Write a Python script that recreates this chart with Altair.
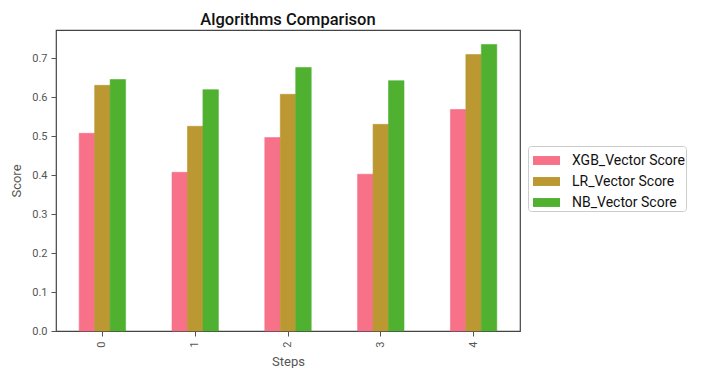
import altair as alt
import pandas as pd

steps = ["0", "1", "2", "3", "4"]
series = ["XGB_Vector Score", "LR_Vector Score", "NB_Vector Score"]
xgb = [0.507, 0.407, 0.496, 0.402, 0.568]
lr = [0.630, 0.525, 0.607, 0.530, 0.709]
nb = [0.645, 0.619, 0.676, 0.642, 0.735]
colors = ["#f77189", "#bb9832", "#50b131"]

rows = []
for s, vals in zip(series, [xgb, lr, nb]):
    for st, v in zip(steps, vals):
        rows.append({"Steps": st, "Series": s, "Score": v})
df = pd.DataFrame(rows)

rect_path = "M-1,-0.33H1V0.33H-1Z"
cscale = alt.Scale(domain=series, range=colors)

chart = alt.Chart(df).mark_bar(strokeWidth=0.6).encode(
    x=alt.X("Steps:N", sort=steps,
            scale=alt.Scale(paddingInner=0.5, paddingOuter=0.25),
            axis=alt.Axis(title="Steps", labelAngle=-90, labelFontSize=11,
                          labelColor="#555555", titleColor="#555555",
                          titleFontSize=13, titleFontWeight="normal",
                          tickColor="#555555", tickSize=5, domain=False,
                          labelPadding=5, titlePadding=8)),
    xOffset=alt.XOffset("Series:N", sort=series),
    y=alt.Y("Score:Q", scale=alt.Scale(domain=[0, 0.772], nice=False),
            axis=alt.Axis(title="Score", values=[0, 0.1, 0.2, 0.3, 0.4, 0.5, 0.6, 0.7],
                          format=".1f", grid=False, labelFontSize=11,
                          labelColor="#555555", titleColor="#555555",
                          titleFontSize=13, titleFontWeight="normal",
                          tickColor="#555555", tickSize=5, domain=False,
                          labelPadding=4, titlePadding=8)),
    color=alt.Color("Series:N", sort=series, scale=cscale,
                    legend=alt.Legend(title=None, orient="none", legendX=472, legendY=116,
                                      symbolType=rect_path, symbolSize=729,
                                      symbolStrokeWidth=0, symbolOpacity=1,
                                      symbolOffset=4,
                                      labelFontSize=14, labelColor="#111111",
                                      labelOffset=12, rowPadding=0,
                                      padding=1, strokeColor="#cccccc",
                                      fillColor="white", cornerRadius=3)),
    stroke=alt.Stroke("Series:N", sort=series, scale=cscale, legend=None),
).properties(
    width=464, height=301,
    title=alt.Title("Algorithms Comparison", fontSize=16.5, fontWeight=500,
                    color="#111111", offset=2),
    autosize=alt.AutoSizeParams(type="none"),
    padding={"left": 48, "top": 22, "right": 172, "bottom": 37},
).configure(font="Roboto").configure_view(stroke="#444444", strokeWidth=1.2)

chart.save("out.html", embed_options={"renderer": "svg", "actions": False})
